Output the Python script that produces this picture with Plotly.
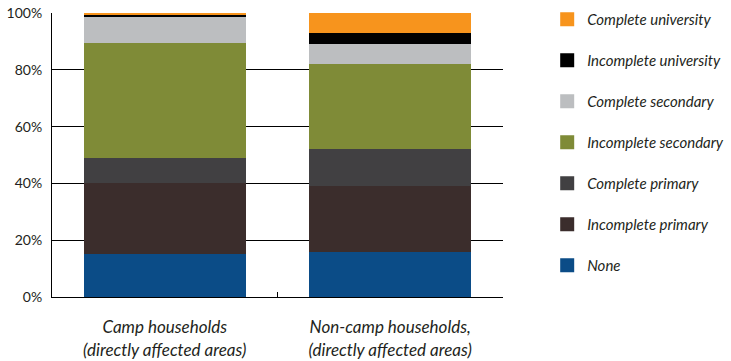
import plotly.graph_objects as go

# Household education levels, share of households (%)
groups = ["Camp households<br>(directly affected areas)",
          "Non-camp households,<br>(directly affected areas)"]
levels = ["None", "Incomplete primary", "Complete primary",
          "Incomplete secondary", "Complete secondary",
          "Incomplete university", "Complete university"]
camp = [15, 25, 9, 40.5, 9, 1, 0.5]
non_camp = [16, 23, 13, 30, 7, 4, 7]
colors = ["#0B4C87", "#3B2D2C", "#414042", "#7F8B37",
          "#BCBEC0", "#000000", "#F7941D"]

fig = go.Figure()
for i, lvl in enumerate(levels):
    fig.add_trace(go.Bar(
        x=groups, y=[camp[i], non_camp[i]], name=lvl,
        legendgroup=lvl, showlegend=False,
        marker=dict(color=colors[i], line=dict(width=0)),
    ))

# Legend entries with slightly larger swatches, highest level listed first
n = len(levels)
for i, lvl in enumerate(levels):
    fig.add_trace(go.Bar(
        x=[None], y=[None], name=lvl, legendgroup=lvl,
        legendrank=n - i, showlegend=True, hoverinfo="skip",
        marker=dict(color=colors[i], line=dict(color=colors[i], width=2)),
    ))

font_family = "Lato, 'Open Sans', sans-serif"
fig.update_layout(
    barmode="stack",
    bargap=0.28,
    width=731, height=361,
    margin=dict(l=52, r=228, t=13, b=64, autoexpand=False),
    plot_bgcolor="white", paper_bgcolor="white",
    font=dict(family=font_family, color="#231F20", size=14),
    legend=dict(
        x=1.098, xanchor="left", y=1.035, yanchor="top",
        traceorder="grouped", tracegroupgap=18.5,
        font=dict(size=15, style="italic"),
        bgcolor="rgba(0,0,0,0)", borderwidth=0,
        maxheight=1.0,
    ),
    xaxis=dict(
        showline=True, linecolor="#000000", linewidth=1,
        tickson="boundaries", ticks="inside", ticklen=5,
        tickcolor="#000000",
        tickfont=dict(size=17, style="italic"),
        ticklabelstandoff=15,
        showgrid=False,
    ),
    yaxis=dict(
        range=[0, 100], dtick=20, ticksuffix="%",
        showline=True, linecolor="#000000", linewidth=1,
        showgrid=True, gridcolor="#000000", gridwidth=1,
        zeroline=False, ticks="", tickfont=dict(size=14),
        ticklabelstandoff=6,
    ),
)

fig.write_html("out.html")
